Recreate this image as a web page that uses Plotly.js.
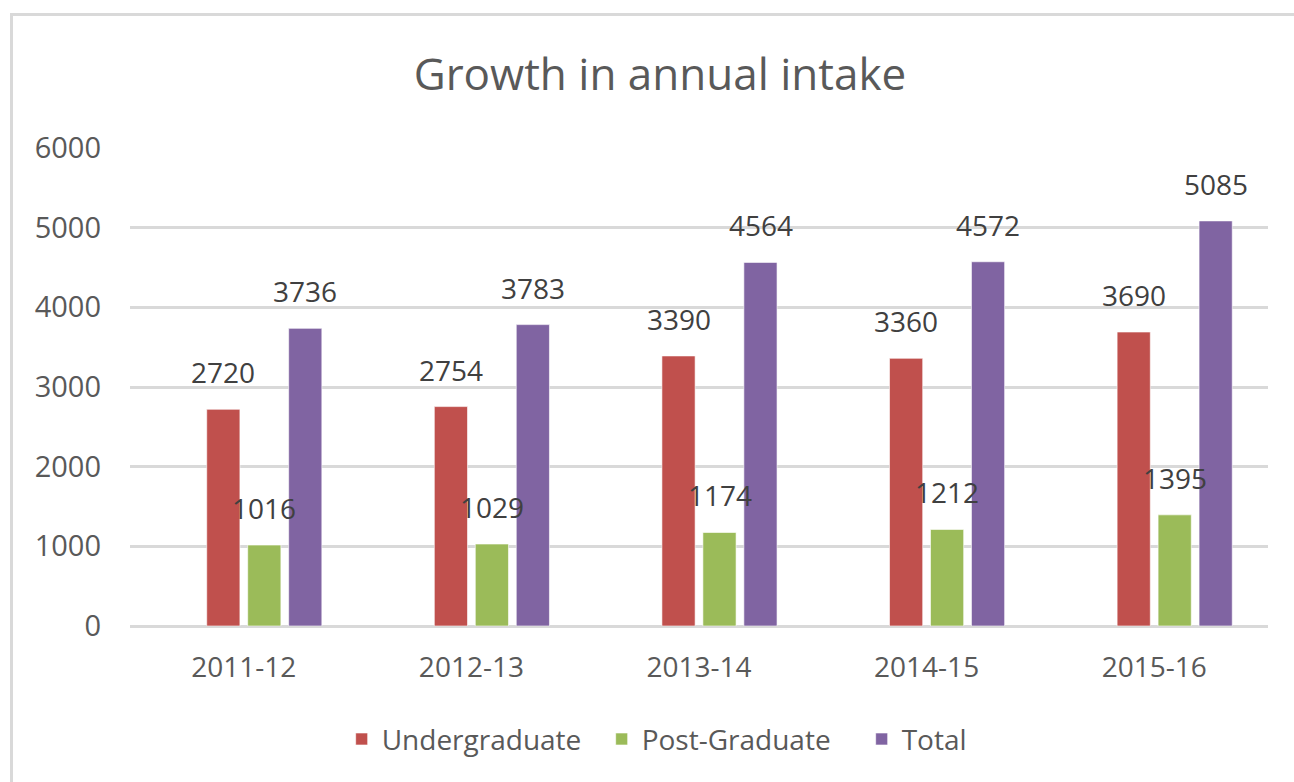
<!DOCTYPE html>
<html>
<head>
<meta charset="utf-8">
<script src="https://cdn.plot.ly/plotly-3.0.1.min.js"></script>
<style>
  html, body { margin: 0; padding: 0; background: #fff; }
  #frame { position: absolute; left: 0; top: 0; width: 1294px; height: 782px; overflow: hidden; }
  #border { position: absolute; left: 10px; top: 13px; width: 1300px; height: 800px;
            border-left: 3px solid #d9d9d9; border-top: 3px solid #d9d9d9; pointer-events: none; }
  #chart { position: absolute; left: 0; top: 0; width: 1294px; height: 782px; }
</style>
</head>
<body>
<div id="frame">
  <div id="chart"></div>
  <div id="border"></div>
</div>
<script>
const years = ["2011-12", "2012-13", "2013-14", "2014-15", "2015-16"];
const undergraduate = [2720, 2754, 3390, 3360, 3690];
const postGraduate = [1016, 1029, 1174, 1212, 1395];
const total = [3736, 3783, 4564, 4572, 5085];
const emptySeries = [null, null, null, null, null];

const FONT = "Open Sans, Liberation Sans, sans-serif";

function barTrace(name, values, color, show) {
  return {
    type: "bar",
    name: name,
    x: years,
    y: values,
    marker: { color: color, line: { color: "rgba(255,255,255,0.6)", width: 1 } },
    showlegend: show,
    hoverinfo: "x+y+name"
  };
}

const series = [
  { name: "Undergraduate", values: undergraduate, color: "#C0504D" },
  { name: "Post-Graduate", values: postGraduate, color: "#9BBB59" },
  { name: "Total", values: total, color: "#8064A2" }
];

const data = [barTrace("", emptySeries, "rgba(0,0,0,0)", false)]
  .concat(series.map(s => barTrace(s.name, s.values, s.color, true)));

// data labels drawn on top of all bars (pixel shifts match the group slots)
const slotShift = [-20.5, 20.5, 61.5];
const annotations = [];
series.forEach((s, i) => {
  s.values.forEach((v, j) => {
    annotations.push({
      x: years[j], y: v, xref: "x", yref: "y",
      text: String(v), showarrow: false,
      xanchor: "center", yanchor: "bottom",
      xshift: slotShift[i], yshift: 16,
      font: { family: FONT, size: 28, color: "#404040" }
    });
  });
});

const layout = {
  width: 1294,
  height: 782,
  margin: { l: 130, r: 26, t: 148, b: 156 },
  paper_bgcolor: "rgba(0,0,0,0)",
  plot_bgcolor: "rgba(0,0,0,0)",
  title: {
    text: "Growth in annual intake",
    font: { family: FONT, size: 44, color: "#595959" },
    x: 0.51, xanchor: "center",
    y: 0.905, yanchor: "middle", yref: "container"
  },
  barmode: "group",
  bargap: 0.28,
  bargroupgap: 0.19,
  xaxis: {
    type: "category",
    tickfont: { family: FONT, size: 28, color: "#595959" },
    ticks: "",
    showgrid: false,
    showline: false,
    zeroline: false,
    ticklabelstandoff: 22
  },
  yaxis: {
    range: [0, 6000],
    dtick: 1000,
    tickfont: { family: FONT, size: 29, color: "#595959" },
    ticks: "",
    showgrid: true,
    gridcolor: "#d9d9d9",
    gridwidth: 2.5,
    zeroline: true,
    zerolinecolor: "#d9d9d9",
    zerolinewidth: 2.5,
    showline: false,
    ticklabelstandoff: 28
  },
  annotations: annotations,
  showlegend: true,
  legend: {
    orientation: "h",
    x: 0.186, xanchor: "left",
    y: -0.237, yanchor: "middle",
    font: { family: FONT, size: 28, color: "#595959" },
    entrywidth: 215,
    entrywidthmode: "pixels",
    traceorder: "normal"
  }
};

Plotly.newPlot("chart", data, layout, { displayModeBar: false, responsive: false });
</script>
</body>
</html>
